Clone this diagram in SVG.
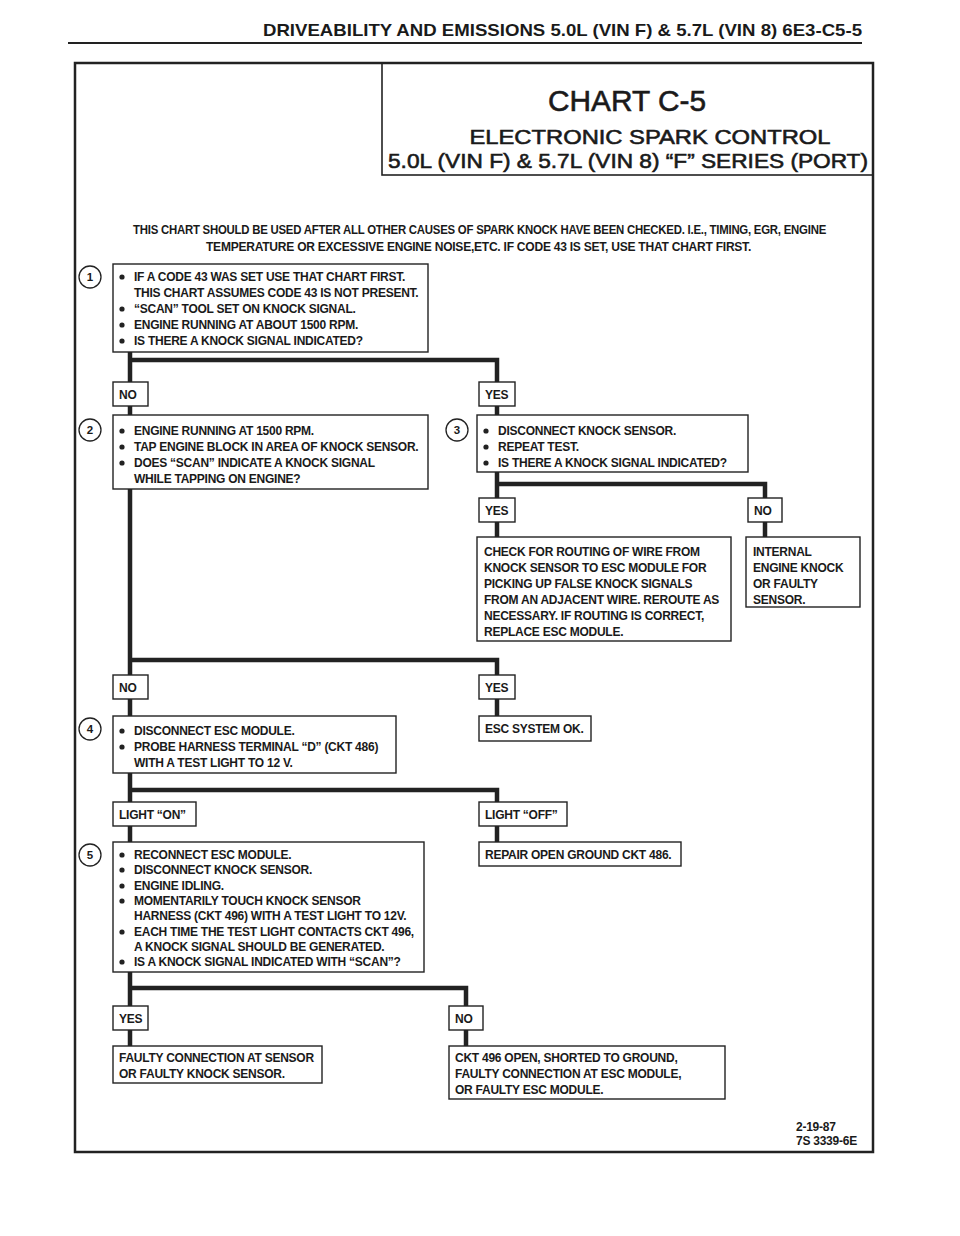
<svg xmlns="http://www.w3.org/2000/svg" xmlns:xlink="http://www.w3.org/1999/xlink" width="960" height="1236" viewBox="0 0 960 1236">
<style>
.bx{fill:#fff;stroke:#222;stroke-width:1.4}
.t{font-family:"Liberation Sans",Arial,sans-serif;font-weight:bold;font-size:12px;letter-spacing:-0.25px;fill:#1a1a1a}
.n{font-family:"Liberation Sans",Arial,sans-serif;font-weight:bold;font-size:11.5px;fill:#1a1a1a;text-anchor:middle}
.cn{fill:#fff;stroke:#222;stroke-width:1.3}
.c{fill:none;stroke:#222;stroke-width:4.5}
.ti{font-family:"Liberation Sans",Arial,sans-serif;fill:#1a1a1a}
.tt{stroke:#1a1a1a;stroke-width:0.6}
</style>
<defs>
<circle id="b" r="2.6" fill="#222"/>
</defs>
<rect width="960" height="1236" fill="#fff"/>
<g id="header">
<text class="ti" x="263" y="36" font-size="17" font-weight="bold" textLength="599" lengthAdjust="spacingAndGlyphs">DRIVEABILITY AND EMISSIONS 5.0L (VIN F) &amp; 5.7L (VIN 8) 6E3-C5-5</text>
<line x1="68" y1="43" x2="862" y2="43" stroke="#222" stroke-width="2"/>
</g>
<g id="frame">
<rect x="75" y="63" width="798" height="1089" fill="none" stroke="#222" stroke-width="2.5"/>
</g>
<g id="title">
<rect x="382" y="63" width="491" height="112" fill="none" stroke="#222" stroke-width="1.6"/>
<text class="ti tt" x="627" y="111" font-size="30" text-anchor="middle" textLength="158" lengthAdjust="spacingAndGlyphs">CHART C-5</text>
<text class="ti tt" x="650" y="144" font-size="21" text-anchor="middle" textLength="361" lengthAdjust="spacingAndGlyphs">ELECTRONIC SPARK CONTROL</text>
<text class="ti tt" x="628" y="168" font-size="21" text-anchor="middle" textLength="480" lengthAdjust="spacingAndGlyphs">5.0L (VIN F) &amp; 5.7L (VIN 8) “F” SERIES (PORT)</text>
</g>
<g id="intro">
<text class="t" x="133" y="234" font-size="11.5" letter-spacing="0" textLength="693" lengthAdjust="spacingAndGlyphs">THIS CHART SHOULD BE USED AFTER ALL OTHER CAUSES OF SPARK KNOCK HAVE BEEN CHECKED.  I.E., TIMING, EGR, ENGINE</text>
<text class="t" x="206" y="251" font-size="11.5" letter-spacing="0" textLength="545" lengthAdjust="spacingAndGlyphs">TEMPERATURE OR EXCESSIVE ENGINE NOISE,ETC.  IF CODE 43 IS SET, USE THAT CHART FIRST.</text>
</g>
<g id="connectors">
<path class="c" d="M130,352V382M130,360H497V382"/>
<path class="c" d="M130,406V415M497,406V415"/>
<path class="c" d="M497,472V498M497,484H765V498"/>
<path class="c" d="M497,522V537M765,522V537"/>
<path class="c" d="M130,489V675M130,660H497V675"/>
<path class="c" d="M130,699V716M497,699V716"/>
<path class="c" d="M130,773V802M130,790H497V802"/>
<path class="c" d="M130,826V842M497,826V842"/>
<path class="c" d="M130,972V1006M130,988H466V1006"/>
<path class="c" d="M130,1030V1046M466,1030V1046"/>
</g>
<g id="step1">
<circle class="cn" cx="90" cy="277" r="11"/><text class="n" x="90" y="281">1</text>
<rect class="bx" x="113" y="264" width="315" height="88"/>
<use href="#b" x="122" y="277"/><use href="#b" x="122" y="309"/><use href="#b" x="122" y="325"/><use href="#b" x="122" y="341"/>
<text class="t" x="134" y="281">IF A CODE 43 WAS SET USE THAT CHART FIRST.</text>
<text class="t" x="134" y="297">THIS CHART ASSUMES CODE 43 IS NOT PRESENT.</text>
<text class="t" x="134" y="313">“SCAN” TOOL SET ON KNOCK SIGNAL.</text>
<text class="t" x="134" y="329">ENGINE RUNNING AT ABOUT 1500 RPM.</text>
<text class="t" x="134" y="345">IS THERE A KNOCK SIGNAL INDICATED?</text>
</g>
<g id="no1">
<rect class="bx" x="113" y="382" width="35" height="24"/><text class="t" x="119" y="398.5">NO</text>
</g>
<g id="yes1">
<rect class="bx" x="479" y="382" width="36" height="24"/><text class="t" x="485" y="398.5">YES</text>
</g>
<g id="step2">
<circle class="cn" cx="90" cy="430" r="11"/><text class="n" x="90" y="434">2</text>
<rect class="bx" x="113" y="415" width="315" height="74"/>
<use href="#b" x="122" y="431"/><use href="#b" x="122" y="447"/><use href="#b" x="122" y="463"/>
<text class="t" x="134" y="435">ENGINE RUNNING AT 1500 RPM.</text>
<text class="t" x="134" y="451">TAP ENGINE BLOCK IN AREA OF KNOCK SENSOR.</text>
<text class="t" x="134" y="467">DOES “SCAN” INDICATE A KNOCK SIGNAL</text>
<text class="t" x="134" y="483">WHILE TAPPING ON ENGINE?</text>
</g>
<g id="step3">
<circle class="cn" cx="457" cy="430" r="11"/><text class="n" x="457" y="434">3</text>
<rect class="bx" x="477" y="415" width="271" height="57"/>
<use href="#b" x="486" y="431"/><use href="#b" x="486" y="447"/><use href="#b" x="486" y="463"/>
<text class="t" x="498" y="435">DISCONNECT KNOCK SENSOR.</text>
<text class="t" x="498" y="451">REPEAT TEST.</text>
<text class="t" x="498" y="467">IS THERE A KNOCK SIGNAL INDICATED?</text>
</g>
<g id="yes3">
<rect class="bx" x="479" y="498" width="36" height="24"/><text class="t" x="485" y="514.5">YES</text>
</g>
<g id="no3">
<rect class="bx" x="748" y="498" width="34" height="24"/><text class="t" x="754" y="514.5">NO</text>
</g>
<g id="check-routing">
<rect class="bx" x="477" y="537" width="254" height="104"/>
<text class="t" x="484" y="556">CHECK FOR ROUTING OF WIRE FROM</text>
<text class="t" x="484" y="572">KNOCK SENSOR TO ESC MODULE FOR</text>
<text class="t" x="484" y="588">PICKING UP FALSE KNOCK SIGNALS</text>
<text class="t" x="484" y="604">FROM AN ADJACENT WIRE.  REROUTE AS</text>
<text class="t" x="484" y="620">NECESSARY.  IF ROUTING IS CORRECT,</text>
<text class="t" x="484" y="636">REPLACE ESC MODULE.</text>
</g>
<g id="internal-knock">
<rect class="bx" x="746" y="537" width="114" height="70"/>
<text class="t" x="753" y="556">INTERNAL</text>
<text class="t" x="753" y="572">ENGINE KNOCK</text>
<text class="t" x="753" y="588">OR FAULTY</text>
<text class="t" x="753" y="604">SENSOR.</text>
</g>
<g id="no2">
<rect class="bx" x="113" y="675" width="35" height="24"/><text class="t" x="119" y="691.5">NO</text>
</g>
<g id="yes2">
<rect class="bx" x="479" y="675" width="36" height="24"/><text class="t" x="485" y="691.5">YES</text>
</g>
<g id="esc-ok">
<rect class="bx" x="479" y="716" width="112" height="25"/><text class="t" x="485" y="733">ESC SYSTEM OK.</text>
</g>
<g id="step4">
<circle class="cn" cx="90" cy="729" r="11"/><text class="n" x="90" y="733">4</text>
<rect class="bx" x="113" y="716" width="283" height="57"/>
<use href="#b" x="122" y="731"/><use href="#b" x="122" y="747"/>
<text class="t" x="134" y="735">DISCONNECT ESC MODULE.</text>
<text class="t" x="134" y="751">PROBE HARNESS TERMINAL “D” (CKT 486)</text>
<text class="t" x="134" y="767">WITH A TEST LIGHT TO 12 V.</text>
</g>
<g id="light-on">
<rect class="bx" x="113" y="802" width="83" height="24"/><text class="t" x="119" y="818.5">LIGHT “ON”</text>
</g>
<g id="light-off">
<rect class="bx" x="479" y="802" width="88" height="24"/><text class="t" x="485" y="818.5">LIGHT “OFF”</text>
</g>
<g id="repair-ground">
<rect class="bx" x="479" y="842" width="202" height="24"/><text class="t" x="485" y="858.5">REPAIR OPEN GROUND CKT 486.</text>
</g>
<g id="step5">
<circle class="cn" cx="90" cy="855" r="11"/><text class="n" x="90" y="859">5</text>
<rect class="bx" x="113" y="842" width="311" height="130"/>
<use href="#b" x="122" y="855"/><use href="#b" x="122" y="870"/><use href="#b" x="122" y="886"/><use href="#b" x="122" y="901"/><use href="#b" x="122" y="932"/><use href="#b" x="122" y="962"/>
<text class="t" x="134" y="859">RECONNECT ESC MODULE.</text>
<text class="t" x="134" y="874">DISCONNECT KNOCK SENSOR.</text>
<text class="t" x="134" y="890">ENGINE IDLING.</text>
<text class="t" x="134" y="905">MOMENTARILY TOUCH KNOCK SENSOR</text>
<text class="t" x="134" y="920">HARNESS (CKT 496) WITH A TEST LIGHT TO 12V.</text>
<text class="t" x="134" y="936">EACH TIME THE TEST LIGHT CONTACTS CKT 496,</text>
<text class="t" x="134" y="951">A KNOCK SIGNAL SHOULD BE GENERATED.</text>
<text class="t" x="134" y="966">IS A KNOCK SIGNAL INDICATED WITH “SCAN”?</text>
</g>
<g id="yes5">
<rect class="bx" x="113" y="1006" width="35" height="24"/><text class="t" x="119" y="1022.5">YES</text>
</g>
<g id="no5">
<rect class="bx" x="449" y="1006" width="34" height="24"/><text class="t" x="455" y="1022.5">NO</text>
</g>
<g id="faulty-sensor">
<rect class="bx" x="113" y="1046" width="209" height="37"/>
<text class="t" x="119" y="1062">FAULTY CONNECTION AT SENSOR</text>
<text class="t" x="119" y="1078">OR FAULTY KNOCK SENSOR.</text>
</g>
<g id="ckt496">
<rect class="bx" x="449" y="1046" width="276" height="53"/>
<text class="t" x="455" y="1062">CKT 496 OPEN, SHORTED TO GROUND,</text>
<text class="t" x="455" y="1078">FAULTY CONNECTION AT ESC MODULE,</text>
<text class="t" x="455" y="1094">OR FAULTY ESC MODULE.</text>
</g>
<g id="footer">
<text class="t" x="796" y="1131" font-size="11" letter-spacing="0">2-19-87</text>
<text class="t" x="796" y="1145" font-size="11" letter-spacing="0">7S 3339-6E</text>
</g>
</svg>
